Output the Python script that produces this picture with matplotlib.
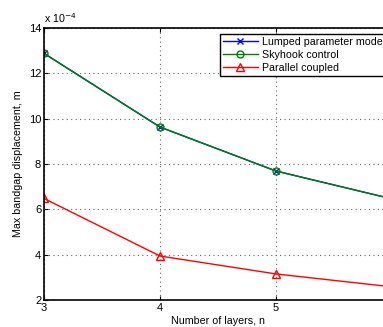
import matplotlib
matplotlib.use("Agg")
import matplotlib.pyplot as plt
import numpy as np

plt.rcParams['font.family'] = ['Liberation Sans', 'DejaVu Sans']

# data (values in metres)
layers = [3, 4, 5, 6]
lumped = [12.88e-4, 9.63e-4, 7.69e-4, 6.46e-4]
skyhook = [12.88e-4, 9.63e-4, 7.69e-4, 6.46e-4]
parallel = [6.48e-4, 3.94e-4, 3.15e-4, 2.58e-4]
scale = 1e-4

fs = 7.7

fig = plt.figure(figsize=(3.83, 3.27), dpi=100)
# axes runs past the right edge, as in the cropped original
ax = fig.add_axes([44 / 383, 27 / 327, 348 / 383, 272 / 327])

ax.plot(layers, np.array(lumped) / scale, color='blue', marker='x', ms=4,
        lw=1, mew=1, label='Lumped parameter model')
ax.plot(layers, np.array(skyhook) / scale, color=(0, 0.5, 0), marker='o', ms=5,
        lw=1, mfc='none', label='Skyhook control')
ax.plot(layers, np.array(parallel) / scale, color='red', marker='^', ms=6,
        lw=1, mfc='none', label='Parallel coupled')

ax.set_xlim(3, 6)
ax.set_ylim(2, 14)
ax.set_xticks([3, 4, 5, 6])
ax.set_yticks([2, 4, 6, 8, 10, 12, 14])
ax.grid(True, linestyle=(0, (1, 3)), color='0.4', lw=0.8)
ax.tick_params(direction='in', labelsize=8, length=3, top=True, right=True, pad=2)
for s in ax.spines.values():
    s.set_linewidth(1.2)

ax.set_xlabel('Number of layers, n', fontsize=fs, labelpad=2)
ax.set_ylabel('Max bandgap displacement, m', fontsize=fs, labelpad=4)
ax.text(0.0, 1.01, r'x 10$^{-4}$', transform=ax.transAxes, fontsize=fs,
        ha='left', va='bottom')

leg = ax.legend(loc='upper left', bbox_to_anchor=(0.506, 0.978), fontsize=fs,
                fancybox=False, framealpha=1, edgecolor='black',
                borderpad=0.3, labelspacing=0.25, handlelength=3.2,
                handletextpad=0.4, borderaxespad=0)
leg.get_frame().set_linewidth(1)

fig.savefig('out.png', dpi=100)
